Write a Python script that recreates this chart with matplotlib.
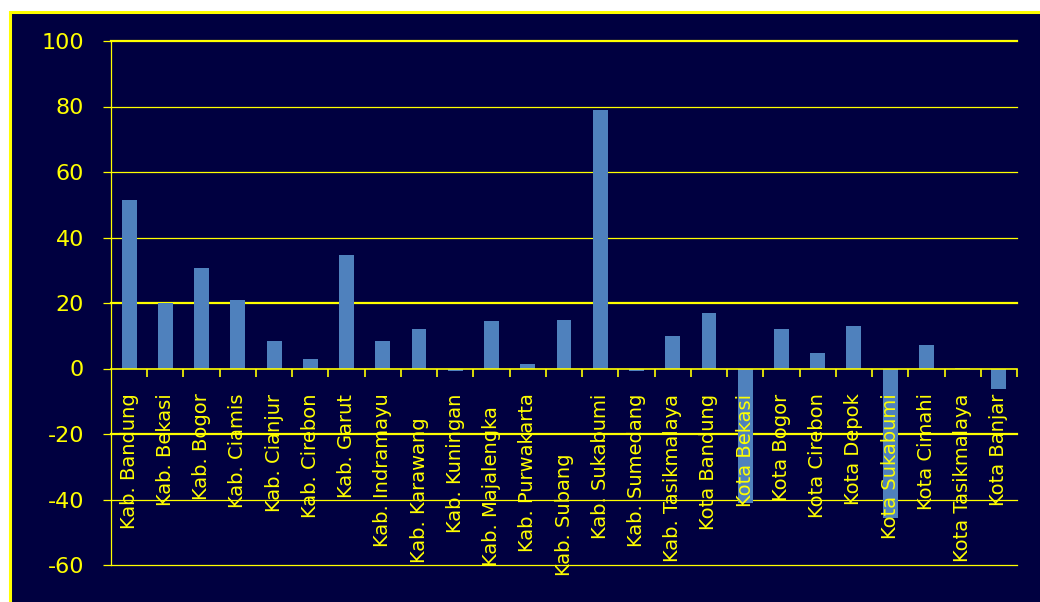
#bar chart of the change per kabupaten / kota (West Java), dark navy Excel style
import matplotlib
matplotlib.use('Agg')
import matplotlib.pyplot as plt
import matplotlib.transforms as mtransforms
from matplotlib.patches import Rectangle
import numpy as np

plt.rcParams['font.family'] = ['DejaVu Sans']
plt.rcParams['axes.unicode_minus'] = False

#data
regions = ['Kab. Bandung', 'Kab. Bekasi', 'Kab. Bogor', 'Kab. Ciamis', 'Kab. Cianjur',
           'Kab. Cirebon', 'Kab. Garut', 'Kab. Indramayu', 'Kab. Karawang', 'Kab. Kuningan',
           'Kab. Majalengka', 'Kab. Purwakarta', 'Kab. Subang', 'Kab. Sukabumi', 'Kab. Sumedang',
           'Kab. Tasikmalaya', 'Kota Bandung', 'Kota Bekasi', 'Kota Bogor', 'Kota Cirebon',
           'Kota Depok', 'Kota Sukabumi', 'Kota Cimahi', 'Kota Tasikmalaya', 'Kota Banjar']
values = [51.3, 20.1, 30.8, 20.8, 8.5,
          3.0, 34.8, 8.5, 12.2, -0.8,
          14.4, 1.5, 14.7, 78.8, -0.8,
          9.8, 16.8, -41.1, 12.2, 4.6,
          13.1, -45.7, 7.3, 0.3, -6.3]
yticks = [100, 80, 60, 40, 20, 0, -20, -40, -60]

#some labels sit lower in the original (extra drop in pixels)
label_drop = {'Kab. Karawang': 24, 'Kab. Majalengka': 13, 'Kab. Subang': 60}

navy = '#000040'
yellow = '#FFFF00'
bar_color = '#4F81BD'

fig = plt.figure(figsize=(10.4, 6.02), dpi=100)
fig.patch.set_facecolor('white')

#navy panel with yellow frame
panel = Rectangle((9.5 / 1040, -0.02), 1.05, (602 - 11.5) / 602 + 0.02,
                  transform=fig.transFigure, facecolor=navy, edgecolor=yellow,
                  linewidth=2.2, zorder=-10)
fig.patches.append(panel)

ax = fig.add_axes([111 / 1040, 37 / 602, 906 / 1040, 524 / 602])
ax.set_facecolor(navy)

x = np.arange(len(regions))
ax.bar(x, values, width=0.41, color=bar_color, zorder=2)

ax.set_xlim(-0.5, len(regions) - 0.5)
ax.set_ylim(-60, 100)

#gridlines (some look thicker in the original)
for v in yticks:
    if v == 0:
        continue
    lw = 1.6 if v in (100, 20, -20) else 0.9
    ax.axhline(v, color=yellow, linewidth=lw, zorder=1, clip_on=False)

#spines
for side in ['top', 'right']:
    ax.spines[side].set_visible(False)
ax.spines['left'].set_color(yellow)
ax.spines['left'].set_linewidth(0.9)
ax.spines['bottom'].set_position(('data', 0))
ax.spines['bottom'].set_color(yellow)
ax.spines['bottom'].set_linewidth(1.2)
ax.spines['bottom'].set_zorder(3)

#y axis
ax.set_yticks(yticks, labels=[str(v) for v in yticks])
ax.tick_params(axis='y', colors=yellow, length=5.8, width=0.9, pad=13.5, labelsize=16)

#x axis: tick marks between categories, labels drawn by hand
ax.set_xticks(x + 0.5)
ax.set_xticklabels([])
ax.tick_params(axis='x', colors=yellow, direction='out', length=5.8, width=1.2)

for i, name in enumerate(regions):
    drop = 25 + label_drop.get(name, 0)
    trans = mtransforms.offset_copy(ax.transData, fig=fig, x=0, y=-drop, units='dots')
    ax.text(i, 0, name, transform=trans, rotation=90, ha='center', va='top',
            color=yellow, fontsize=14, zorder=4)

fig.savefig('out.png', dpi=100, facecolor=fig.get_facecolor())
